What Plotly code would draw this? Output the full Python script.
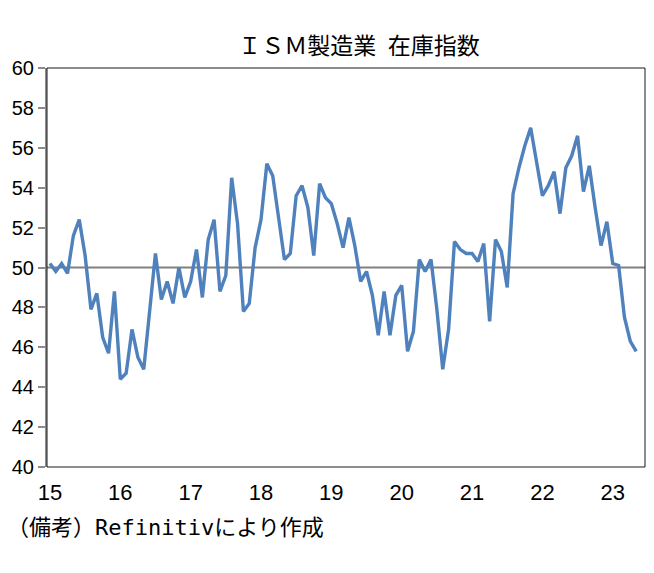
import plotly.graph_objects as go

years = ["15", "16", "17", "18", "19", "20", "21", "22", "23"]
inventory_index = [
    50.2, 49.8, 50.2, 49.7, 51.6, 52.4, 50.6, 47.9, 48.7, 46.5, 45.7, 48.8,  # 2015
    44.4, 44.7, 46.9, 45.5, 44.9, 47.8, 50.7, 48.4, 49.3, 48.2, 50.0, 48.5,  # 2016
    49.3, 50.9, 48.5, 51.4, 52.4, 48.8, 49.6, 54.5, 52.2, 47.8, 48.2, 51.0,  # 2017
    52.4, 55.2, 54.6, 52.5, 50.4, 50.7, 53.6, 54.1, 53.0, 50.6, 54.2, 53.5,  # 2018
    53.2, 52.2, 51.0, 52.5, 51.1, 49.3, 49.8, 48.6, 46.6, 48.8, 46.6, 48.6,  # 2019
    49.1, 45.8, 46.8, 50.4, 49.8, 50.4, 47.9, 44.9, 46.9, 51.3, 50.9, 50.7,  # 2020
    50.7, 50.3, 51.2, 47.3, 51.4, 50.8, 49.0, 53.7, 55.0, 56.1, 57.0, 55.3,  # 2021
    53.6, 54.1, 54.8, 52.7, 55.0, 55.6, 56.6, 53.8, 55.1, 53.0, 51.1, 52.3,  # 2022
    50.2, 50.1, 47.5, 46.3, 45.8,                                            # 2023
]
baseline = 50
n_slots = len(inventory_index) + 1  # one empty category at the end

months = list(range(len(inventory_index)))
tickvals = [i * 12 for i in range(len(years))]

W, H = 654, 573
L, R, T, B = 47, 645, 68, 467

fig = go.Figure()
fig.add_trace(go.Scatter(
    x=months, y=inventory_index, mode="lines",
    line=dict(color="#4F81BD", width=3.4),
    hoverinfo="skip", showlegend=False,
))

fig.add_shape(type="line", xref="paper", yref="y", x0=0, x1=1, y0=baseline, y1=baseline,
              line=dict(color="#808080", width=2), layer="below")
fig.add_shape(type="rect", xref="paper", yref="paper", x0=0, x1=1, y0=0, y1=1,
              line=dict(color="#1a1a1a", width=1), layer="above")

fig.update_layout(
    width=W, height=H,
    margin=dict(l=L, r=W - R, t=T, b=H - B, pad=0),
    paper_bgcolor="white", plot_bgcolor="white",
    title=dict(text="ＩＳＭ製造業\u2002在庫指数", x=359 / W, xanchor="center",
               y=1 - 46 / H, yanchor="middle",
               font=dict(family="Noto Sans CJK JP", size=23, color="black")),
    xaxis=dict(range=[-0.5, n_slots - 0.5], tickvals=tickvals, ticktext=years,
               showgrid=False, zeroline=False, showline=False, ticks="",
               ticklabelstandoff=10,
               tickfont=dict(family="Liberation Sans, Arial, sans-serif",
                             size=22, color="black")),
    yaxis=dict(range=[40, 60], dtick=2, showgrid=False, zeroline=False,
               showline=True, linecolor="#8c8c8c", linewidth=2,
               ticks="outside", ticklen=7, tickcolor="#8c8c8c", tickwidth=2,
               tickfont=dict(family="Liberation Sans, Arial, sans-serif", size=20, color="black")),
)

fig.add_annotation(
    text="（備考）<span style='font-family:DejaVu Sans Mono'>Refinitiv</span>により作成",
    xref="paper", yref="paper", x=(5 - L) / (R - L), y=(B - 525) / (B - T),
    xanchor="left", yanchor="middle", showarrow=False,
    font=dict(family="Noto Sans CJK JP", size=22, color="black"),
)

fig.write_html("out.html")
